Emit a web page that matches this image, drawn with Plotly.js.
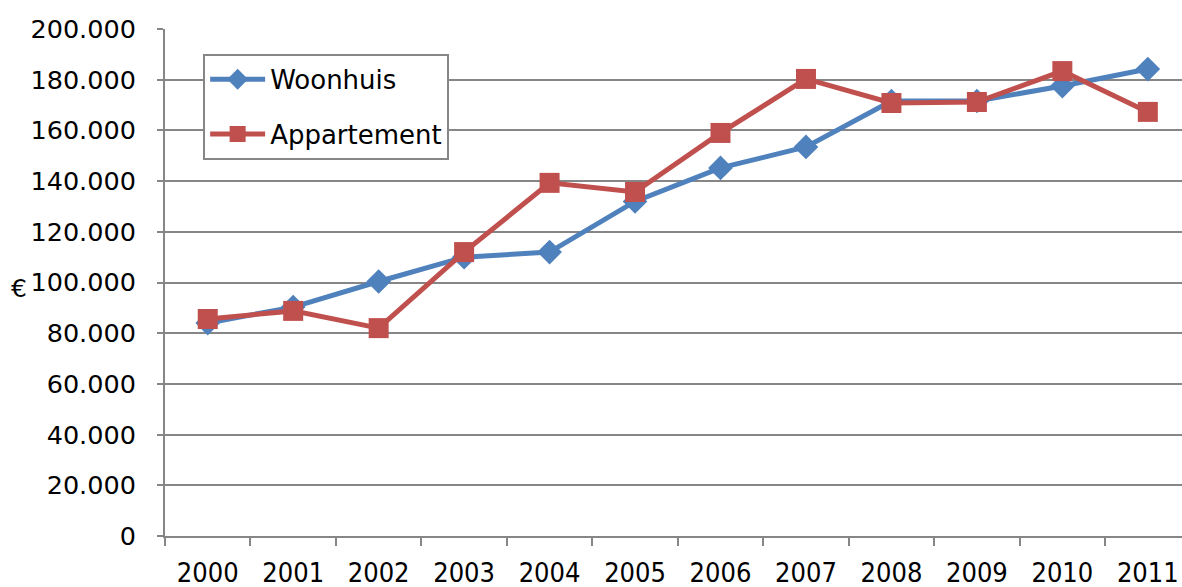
<!DOCTYPE html>
<html>
<head>
<meta charset="utf-8">
<script src="https://cdn.plot.ly/plotly-3.0.1.min.js"></script>
<style>html,body{margin:0;padding:0;background:#fff;}#chart{width:1182px;height:587px;}</style>
</head>
<body>
<div id="chart"></div>
<script>
const years = ["2000","2001","2002","2003","2004","2005","2006","2007","2008","2009","2010","2011"];
const woonhuis = [84000, 90300, 100400, 110000, 112000, 132000, 145200, 153500, 171600, 171600, 177500, 184200];
const appartement = [85600, 88800, 82000, 112000, 139300, 135700, 159000, 180300, 170800, 171200, 183400, 167300];
const yTicks = [0, 20000, 40000, 60000, 80000, 100000, 120000, 140000, 160000, 180000, 200000];

const traces = [
  {
    x: years, y: woonhuis, name: "Woonhuis", type: "scatter", mode: "lines+markers",
    legendgroup: "a",
    line: {color: "#4F81BD", width: 5},
    marker: {symbol: "diamond", size: 19, color: "#4F81BD"}
  },
  {
    x: years, y: appartement, name: "Appartement", type: "scatter", mode: "lines+markers",
    legendgroup: "b",
    line: {color: "#C0504D", width: 5},
    marker: {symbol: "square", size: 20, color: "#C0504D"}
  }
];

const layout = {
  width: 1182, height: 587,
  margin: {l: 165, r: 0, t: 29, b: 51, pad: 0},
  paper_bgcolor: "#fff", plot_bgcolor: "#fff",
  separators: ",.",
  showlegend: true,
  font: {family: "DejaVu Sans, Verdana, sans-serif", color: "#000"},
  xaxis: {
    type: "category",
    range: [-0.5, 11.4],
    tickson: "boundaries",
    ticks: "outside", ticklen: 8, tickwidth: 2, tickcolor: "#868686",
    showgrid: false,
    showline: true, linecolor: "#868686", linewidth: 2,
    tickfont: {family: "DejaVu Sans Condensed, DejaVu Sans, sans-serif", size: 27, color: "#000"},
    ticklabelstandoff: 12,
    fixedrange: true
  },
  yaxis: {
    range: [0, 200000],
    tickvals: yTicks,
    tickformat: ",d",
    ticks: "outside", ticklen: 6, tickwidth: 2, tickcolor: "#868686",
    showgrid: true, gridcolor: "#868686", gridwidth: 2,
    showline: true, linecolor: "#868686", linewidth: 2,
    zeroline: false,
    tickfont: {family: "DejaVu Sans, Verdana, sans-serif", size: 25.5, color: "#000"},
    ticklabelstandoff: 16,
    fixedrange: true
  },
  legend: {
    x: 0.0375, y: 0.951, xanchor: "left", yanchor: "top",
    bgcolor: "#fff", bordercolor: "#868686", borderwidth: 2,
    font: {family: "DejaVu Sans, Verdana, sans-serif", size: 26, color: "#000"},
    traceorder: "grouped", tracegroupgap: 18,
    itemwidth: 55
  },
  annotations: [
    {text: "€", xref: "paper", yref: "y", x: -0.152, y: 97500, xanchor: "left", yanchor: "middle",
     borderpad: 0, showarrow: false, font: {family: "DejaVu Sans, Verdana, sans-serif", size: 25, color: "#000"}}
  ]
};

Plotly.newPlot("chart", traces, layout, {displayModeBar: false, staticPlot: true});
</script>
</body>
</html>
